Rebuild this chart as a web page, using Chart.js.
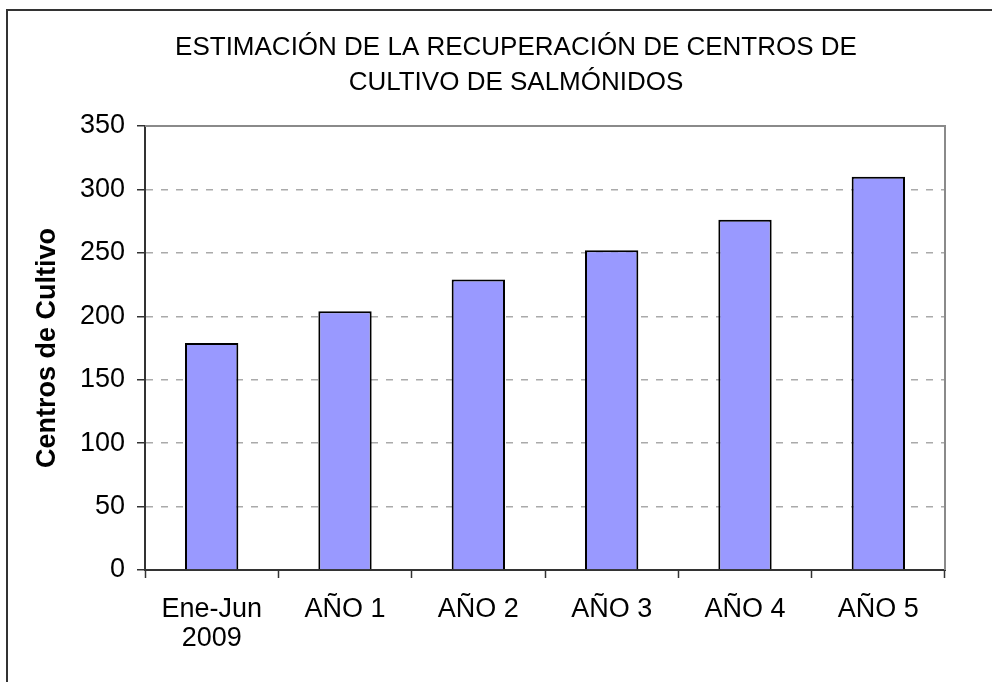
<!DOCTYPE html>
<html>
<head>
<meta charset="utf-8">
<script src="https://cdn.jsdelivr.net/npm/chart.js@4/dist/chart.umd.min.js"></script>
<style>
  html, body { margin: 0; padding: 0; background: #fff; overflow: hidden; }
  #wrap { position: relative; width: 992px; height: 682px; }
  #frame { position: absolute; left: 6px; top: 9px; width: 2000px; height: 2000px;
           border-left: 2px solid #333; border-top: 2px solid #333; box-sizing: border-box; }
  canvas { position: absolute; left: 0; top: 0; }
</style>
</head>
<body>
<div id="wrap">
  <div id="frame"></div>
  <canvas id="c" width="992" height="682"></canvas>
</div>
<script>
const titleLines = ['ESTIMACIÓN DE LA RECUPERACIÓN DE CENTROS DE', 'CULTIVO DE SALMÓNIDOS'];
const categories = [['Ene-Jun', '2009'], 'AÑO 1', 'AÑO 2', 'AÑO 3', 'AÑO 4', 'AÑO 5'];
const centrosValues = [179, 204, 229, 252, 276, 310];
const yAxisTitle = 'Centros de Cultivo';
const yMin = 0, yMax = 350, yStep = 50;

const FONT = "'Liberation Sans', Arial, sans-serif";

const titlePlugin = {
  id: 'twoLineTitle',
  afterDraw(chart) {
    const ctx = chart.ctx;
    ctx.save();
    ctx.font = '26px ' + FONT;
    ctx.fillStyle = '#000';
    ctx.textAlign = 'center';
    ctx.textBaseline = 'middle';
    ctx.fillText(titleLines[0], 516, 48);
    ctx.fillText(titleLines[1], 516, 83);
    ctx.restore();
  }
};

const plotBorderPlugin = {
  id: 'plotBorder',
  beforeDatasetsDraw(chart) {
    const a = chart.chartArea;
    const ctx = chart.ctx;
    ctx.save();
    ctx.strokeStyle = '#8a8a8a';
    ctx.lineWidth = 2;
    ctx.beginPath();
    ctx.moveTo(a.left, a.top);
    ctx.lineTo(a.right, a.top);
    ctx.lineTo(a.right, a.bottom);
    ctx.stroke();
    ctx.restore();
  }
};

new Chart(document.getElementById('c'), {
  type: 'bar',
  data: {
    labels: categories,
    datasets: [{
      data: centrosValues,
      backgroundColor: '#9999FF',
      borderColor: '#000',
      borderWidth: 2,
      barPercentage: 0.4,
      categoryPercentage: 1.0
    }]
  },
  plugins: [titlePlugin, plotBorderPlugin],
  options: {
    responsive: false,
    animation: false,
    events: [],
    layout: { padding: { top: 126, right: 47, bottom: 0, left: 0 } },
    plugins: {
      legend: { display: false },
      tooltip: { enabled: false },
      title: { display: false }
    },
    scales: {
      x: {
        offset: true,
        grid: { display: true, drawOnChartArea: false, offset: true, tickLength: 8, tickColor: '#333', tickWidth: 1.5 },
        border: { display: true, color: '#333', width: 2 },
        ticks: { color: '#000', font: { family: FONT, size: 27, lineHeight: 1.04 }, padding: 18, maxRotation: 0, autoSkip: false },
        afterFit(scale) { scale.height = 682 - 570; }
      },
      y: {
        min: yMin, max: yMax,
        grid: { color: (c) => (c.tick && c.tick.value === yMax) ? 'rgba(0,0,0,0)' : '#aaaaaa', lineWidth: 1.5, tickLength: 8, tickColor: '#333', tickWidth: 1.5 },
        border: { display: true, color: '#333', width: 2, dash: [7, 8] },
        ticks: { stepSize: yStep, color: '#000', font: { family: FONT, size: 27 }, padding: 12 },
        title: { display: true, text: yAxisTitle, color: '#000', font: { family: FONT, size: 27, weight: 'bold' }, padding: { top: 31, bottom: 0 } },
        afterFit(scale) { scale.width = 145; }
      }
    }
  }
});
</script>
</body>
</html>
